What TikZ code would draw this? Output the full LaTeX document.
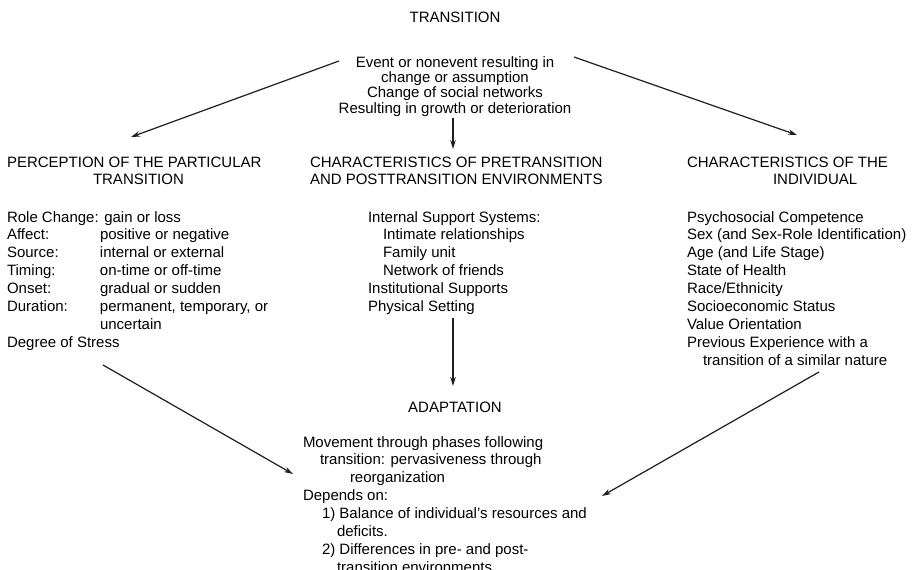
\documentclass[tikz,border=0pt]{standalone}
\usepackage{fontspec}
\setmainfont{Liberation Sans}
\usetikzlibrary{arrows.meta}
\tikzset{
  txt/.style={inner sep=0pt, outer sep=0pt, font=\fontsize{15}{17.9}\selectfont},
  tight/.style={font=\fontsize{15}{15}\selectfont},
  conn/.style={line width=1.2pt, draw=black!88, -{Stealth[length=9pt,width=5.5pt]}}
}
\newcommand{\ind}[1]{\hspace*{#1pt}}
\begin{document}
\begin{tikzpicture}[x=1pt,y=-1pt]
\useasboundingbox (0,0) rectangle (916,570);
\fill[white] (0,0) rectangle (916,570);
\clip (0,0) rectangle (916,570);
\setlength{\tabcolsep}{0pt}
\renewcommand{\arraystretch}{1}

% titles
\node[txt, anchor=base] (title) at (455,23) {TRANSITION};
\node[txt, tight, anchor=base] (top) at (455,67) {\begin{tabular}[t]{c}
Event or nonevent resulting in\\
change or assumption\\
Change of social networks\\
Resulting in growth or deterioration
\end{tabular}};

% left column
\node[txt, anchor=base west] (perch) at (7,167) {\begin{tabular}[t]{l}
PERCEPTION OF THE PARTICULAR\\
\ind{86}TRANSITION
\end{tabular}};
\node[txt, anchor=base west] (perc) at (7,222) {\begin{tabular}[t]{@{}p{93pt}@{}l@{}}
\multicolumn{2}{@{}l}{Role Change: gain or loss}\\
Affect: & positive or negative\\
Source: & internal or external\\
Timing: & on-time or off-time\\
Onset: & gradual or sudden\\
Duration: & permanent, temporary, or\\
 & uncertain\\
\multicolumn{2}{@{}l}{Degree of Stress}
\end{tabular}};

% centre column
\node[txt, anchor=base west] (envh) at (310,167) {\begin{tabular}[t]{l}
CHARACTERISTICS OF PRETRANSITION\\
AND POSTTRANSITION ENVIRONMENTS
\end{tabular}};
\node[txt, anchor=base west] (env) at (368,222) {\begin{tabular}[t]{l}
Internal Support Systems:\\
\ind{15}Intimate relationships\\
\ind{15}Family unit\\
\ind{15}Network of friends\\
Institutional Supports\\
Physical Setting
\end{tabular}};

% right column
\node[txt, anchor=base west] (indh) at (687,167) {\begin{tabular}[t]{l}
CHARACTERISTICS OF THE\\
\ind{86}INDIVIDUAL
\end{tabular}};
\node[txt, anchor=base west] (indiv) at (687,222) {\begin{tabular}[t]{l}
Psychosocial Competence\\
Sex (and Sex-Role Identification)\\
Age (and Life Stage)\\
State of Health\\
Race/Ethnicity\\
Socioeconomic Status\\
Value Orientation\\
Previous Experience with a\\
\ind{16}transition of a similar nature
\end{tabular}};

% adaptation
\node[txt, anchor=base] (adapth) at (455,412) {ADAPTATION};
\node[txt, anchor=base west] (adapt) at (303,447) {\begin{tabular}[t]{l}
Movement through phases following\\
\ind{17}transition: pervasiveness through\\
\ind{47}reorganization\\
Depends on:\\
\ind{19}1) Balance of individual's resources and\\
\ind{34}deficits.\\
\ind{19}2) Differences in pre- and post-\\
\ind{34}transition environments
\end{tabular}};

% connector end points
\coordinate (tl) at (339,61);
\coordinate (tlE) at (131,137);
\coordinate (tr) at (574,57);
\coordinate (trE) at (797,135);
\coordinate (tc) at (453,118);
\coordinate (tcE) at (453,149);
\coordinate (cc) at (453,318);
\coordinate (ccE) at (453,386);
\coordinate (bl) at (103,365);
\coordinate (blE) at (293,474);
\coordinate (br) at (819,372);
\coordinate (brE) at (602,496);

\draw[conn] (tl) -- (tlE);
\draw[conn] (tr) -- (trE);
\draw[conn] (tc) -- (tcE);
\draw[conn] (cc) -- (ccE);
\draw[conn] (bl) -- (blE);
\draw[conn] (br) -- (brE);
\end{tikzpicture}
\end{document}
